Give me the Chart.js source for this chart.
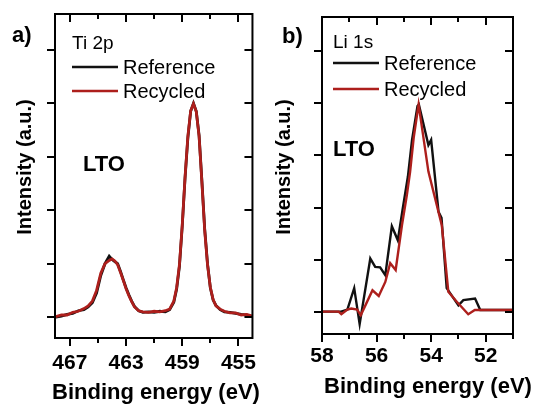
<!DOCTYPE html>
<html>
<head>
<meta charset="utf-8">
<script src="https://cdn.jsdelivr.net/npm/chart.js@4"></script>
<style>
  html, body { margin: 0; padding: 0; background: #fff; }
  #wrap { position: relative; width: 539px; height: 407px; overflow: hidden; }
  canvas { position: absolute; top: 0; }
  #chartA { left: 0; }
  #chartB { left: 270px; }
</style>
</head>
<body>
<div id="wrap">
  <canvas id="chartA" width="270" height="407"></canvas>
  <canvas id="chartB" width="269" height="407"></canvas>
</div>
<script>
// ---- data ----
const seriesNames = ['Reference', 'Recycled'];

// Ti 2p
const tiEnergy = [468.0, 467.6, 467.2, 466.8, 466.4, 466.0, 465.7, 465.4, 465.1, 464.8, 464.5, 464.2, 464.0, 463.8, 463.6, 463.4, 463.2, 463.0, 462.8, 462.6, 462.4, 462.1, 461.8, 461.4, 461.0, 460.6, 460.2, 459.9, 459.6, 459.4, 459.2, 459.0, 458.8, 458.6, 458.4, 458.2, 458.0, 457.8, 457.6, 457.4, 457.2, 457.0, 456.8, 456.6, 456.3, 456.0, 455.6, 455.2, 454.8, 454.4, 454.0];
const tiReference = [0.00, 0.02, 0.05, 0.07, 0.12, 0.14, 0.19, 0.27, 0.45, 0.78, 1.00, 1.14, 1.08, 1.04, 1.00, 0.86, 0.70, 0.55, 0.42, 0.30, 0.20, 0.12, 0.09, 0.10, 0.09, 0.11, 0.10, 0.14, 0.28, 0.52, 0.95, 1.70, 2.60, 3.35, 3.85, 4.00, 3.85, 3.40, 2.55, 1.65, 1.00, 0.55, 0.32, 0.22, 0.14, 0.10, 0.09, 0.07, 0.05, 0.04, 0.01];
const tiRecycled = [0.01, 0.04, 0.04, 0.09, 0.11, 0.16, 0.21, 0.30, 0.50, 0.82, 1.00, 1.06, 1.09, 1.05, 0.98, 0.84, 0.69, 0.53, 0.40, 0.29, 0.19, 0.12, 0.10, 0.09, 0.11, 0.10, 0.12, 0.15, 0.30, 0.55, 0.98, 1.72, 2.62, 3.38, 3.86, 3.99, 3.84, 3.38, 2.52, 1.62, 0.98, 0.56, 0.33, 0.21, 0.15, 0.11, 0.08, 0.08, 0.04, 0.05, 0.02];

// Li 1s
const liRefEnergy = [58.0, 57.3, 57.07, 56.82, 56.62, 56.23, 56.05, 55.87, 55.68, 55.44, 55.22, 55.05, 54.85, 54.7, 54.5, 54.45, 54.1, 54.0, 53.73, 53.62, 53.43, 53.0, 52.82, 52.39, 52.2, 51.0];
const liReference = [0.00, 0.00, 0.04, 0.45, -0.24, 1.02, 0.86, 0.85, 0.70, 1.64, 1.37, 1.95, 2.60, 3.30, 3.95, 3.98, 3.20, 3.30, 1.92, 1.80, 0.45, 0.12, 0.22, 0.25, 0.03, 0.03];
const liRecEnergy = [58.0, 57.39, 57.29, 57.07, 56.93, 56.71, 56.58, 56.41, 56.15, 55.92, 55.68, 55.5, 55.3, 55.07, 54.89, 54.77, 54.64, 54.46, 54.1, 53.61, 53.37, 53.06, 52.64, 52.4, 51.0];
const liRecycled = [0.00, 0.00, -0.05, 0.04, 0.06, 0.04, -0.07, 0.12, 0.41, 0.30, 0.57, 0.93, 0.80, 1.66, 2.24, 2.69, 3.34, 3.98, 2.69, 1.66, 0.38, 0.19, -0.05, 0.03, 0.03];

// ticks
const tiTicks = [467, 465, 463, 461, 459, 457, 455];
const tiTickLabels = [467, 463, 459, 455];
const liTicks = [58, 57, 56, 55, 54, 53, 52, 51];
const liTickLabels = [58, 56, 54, 52];
const intensityTicks = [0, 1, 2, 3, 4, 5];

const BLACK = '#111111';
const RED = '#ad1f1c';
const FONT = '"Liberation Sans", Arial, sans-serif';

function pts(xs, ys) {
  return xs.map((x, i) => ({ x: x, y: ys[i] }));
}

// draws frame, mirrored ticks and the panel texts
const panelDecor = {
  id: 'panelDecor',
  afterDraw(chart, args, opts) {
    const ctx = chart.ctx;
    const a = chart.chartArea;
    const xs = chart.scales.x, ys = chart.scales.y;
    ctx.save();
    ctx.strokeStyle = '#000';
    ctx.lineWidth = 2;
    ctx.strokeRect(a.left, a.top, a.right - a.left, a.bottom - a.top);

    ctx.beginPath();
    opts.xTicks.forEach(v => {
      const px = Math.round(xs.getPixelForValue(v));
      const major = opts.xLabels.includes(v);
      const len = major ? 8 : 5;
      ctx.moveTo(px, a.bottom);
      ctx.lineTo(px, a.bottom + len);
      ctx.moveTo(px, a.top);
      ctx.lineTo(px, a.top + len);
    });
    intensityTicks.forEach(v => {
      const py = Math.round(ys.getPixelForValue(v));
      ctx.moveTo(a.left, py);
      ctx.lineTo(a.left - 8, py);
      ctx.moveTo(a.right, py);
      ctx.lineTo(a.right - 8, py);
    });
    ctx.stroke();

    ctx.fillStyle = '#000';
    ctx.textBaseline = 'middle';
    ctx.textAlign = 'left';

    ctx.font = 'bold 22px ' + FONT;
    ctx.fillText(opts.letter, opts.letterPos[0], opts.letterPos[1]);
    ctx.fillText('LTO', opts.ltoPos[0], opts.ltoPos[1]);

    ctx.font = '19px ' + FONT;
    ctx.fillText(opts.core, opts.corePos[0], opts.corePos[1]);

    // legend
    ctx.font = '20px ' + FONT;
    const colors = [BLACK, RED];
    seriesNames.forEach((name, i) => {
      const y = opts.legendY[i];
      ctx.strokeStyle = colors[i];
      ctx.lineWidth = 2.6;
      ctx.beginPath();
      ctx.moveTo(opts.legendX, y);
      ctx.lineTo(opts.legendX + 46, y);
      ctx.stroke();
      ctx.fillText(name, opts.legendX + 51, y + 1);
    });

    // axis titles
    ctx.font = 'bold 22px ' + FONT;
    ctx.textAlign = 'center';
    ctx.fillText('Binding energy (eV)', opts.xTitle[0], opts.xTitle[1]);

    ctx.font = 'bold 20px ' + FONT;
    ctx.translate(opts.yTitle[0], opts.yTitle[1]);
    ctx.rotate(-Math.PI / 2);
    ctx.fillText('Intensity (a.u.)', 0, 0);
    ctx.restore();
  }
};

function makeChart(id, cfg) {
  return new Chart(document.getElementById(id), {
    type: 'line',
    data: {
      datasets: [
        { label: seriesNames[0], data: cfg.ref, borderColor: BLACK, borderWidth: cfg.lw, pointRadius: 0, tension: 0, order: 1 },
        { label: seriesNames[1], data: cfg.rec, borderColor: RED, borderWidth: cfg.lw, pointRadius: 0, tension: 0, order: 0 }
      ]
    },
    options: {
      responsive: false,
      animation: false,
      layout: { padding: cfg.padding },
      plugins: {
        legend: { display: false },
        tooltip: { enabled: false },
        panelDecor: cfg.decor
      },
      scales: {
        x: {
          type: 'linear',
          reverse: true,
          min: cfg.xMin,
          max: cfg.xMax,
          afterBuildTicks: s => { s.ticks = cfg.xTicks.map(v => ({ value: v })); },
          afterFit: s => { s.height = cfg.xHeight; },
          grid: { display: false, drawTicks: false },
          border: { display: false },
          ticks: {
            autoSkip: false,
            maxRotation: 0,
            padding: cfg.tickPad,
            color: '#000',
            font: { family: FONT, size: 21, weight: 'bold' },
            callback: v => cfg.xLabels.includes(v) ? String(v) : ''
          }
        },
        y: {
          min: cfg.yMin,
          max: cfg.yMax,
          afterBuildTicks: s => { s.ticks = intensityTicks.map(v => ({ value: v })); },
          afterFit: s => { s.width = cfg.yWidth; },
          grid: { display: false, drawTicks: false },
          border: { display: false },
          ticks: { display: false }
        }
      }
    },
    plugins: [panelDecor]
  });
}

makeChart('chartA', {
  ref: pts(tiEnergy, tiReference),
  rec: pts(tiEnergy, tiRecycled),
  xMin: 454, xMax: 468.06,
  yMin: -0.39, yMax: 5.67,
  xTicks: tiTicks, xLabels: tiTickLabels,
  padding: { top: 14, right: 15, left: 0, bottom: 0 },
  xHeight: 69, yWidth: 55, tickPad: 13, lw: 2.8,
  decor: {
    xTicks: tiTicks, xLabels: tiTickLabels,
    letter: 'a)', letterPos: [12, 36],
    core: 'Ti 2p', corePos: [72, 44],
    legendX: 72, legendY: [67, 91],
    ltoPos: [83, 165],
    xTitle: [156, 393],
    yTitle: [25, 167]
  }
});

makeChart('chartB', {
  ref: pts(liRefEnergy, liReference),
  rec: pts(liRecEnergy, liRecycled),
  xMin: 51, xMax: 58,
  yMin: -0.43, yMax: 5.66,
  xTicks: liTicks, xLabels: liTickLabels,
  padding: { top: 17, right: 26, left: 0, bottom: 0 },
  xHeight: 73, yWidth: 52, tickPad: 10, lw: 2.4,
  decor: {
    xTicks: liTicks, xLabels: liTickLabels,
    letter: 'b)', letterPos: [12, 37],
    core: 'Li 1s', corePos: [63, 43],
    legendX: 63, legendY: [63, 89],
    ltoPos: [63, 150],
    xTitle: [158, 387],
    yTitle: [14, 167]
  }
});
</script>
</body>
</html>
